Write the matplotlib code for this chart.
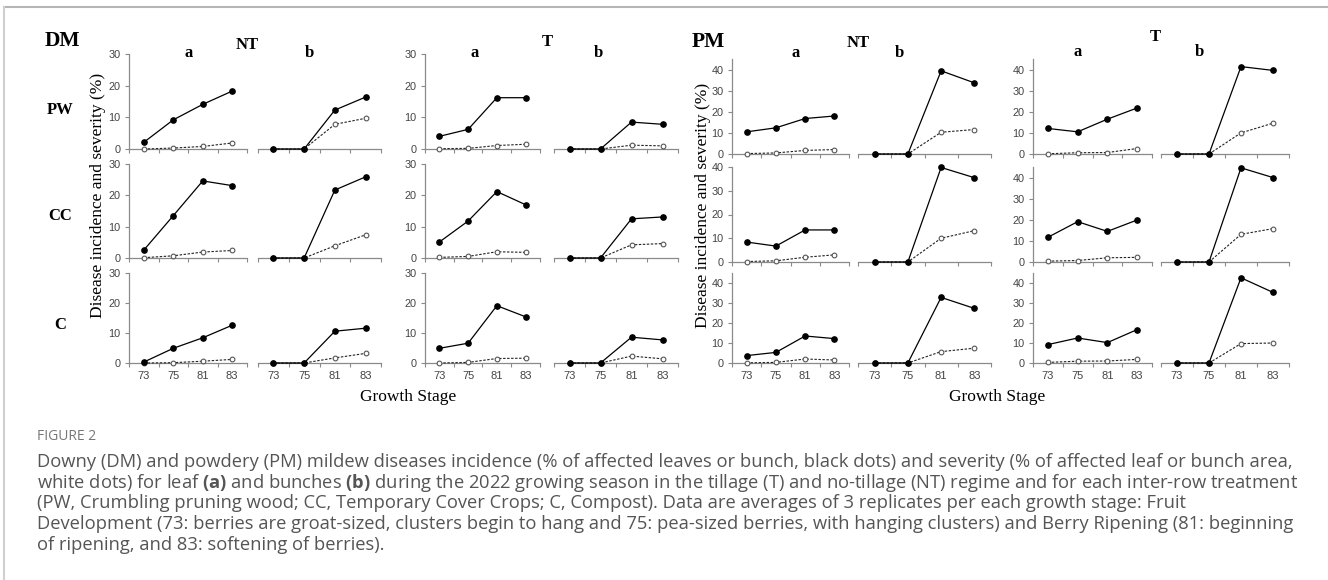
import numpy as np
import matplotlib
matplotlib.use('Agg')
import matplotlib.pyplot as plt
from matplotlib.lines import Line2D

# growth stages and inter-row treatments
stages = ['73', '75', '81', '83']
treatments = ['PW', 'CC', 'C']

# Downy mildew (rows: PW, CC, C)
dm_nt_leaf_inc = [[2.1, 9.2, 14.1, 18.3], [2.5, 13.5, 24.6, 23.1], [0.3, 4.9, 8.4, 12.6]]
dm_nt_leaf_sev = [[0.0, 0.3, 0.8, 1.9], [0.1, 0.7, 1.9, 2.4], [0.0, 0.1, 0.6, 1.2]]
dm_nt_bunch_inc = [[0, 0, 12.3, 16.4], [0, 0, 21.7, 25.9], [0, 0, 10.6, 11.6]]
dm_nt_bunch_sev = [[0, 0, 7.8, 9.7], [0, 0, 3.9, 7.4], [0, 0, 1.7, 3.2]]
dm_t_leaf_inc = [[4.0, 6.2, 16.2, 16.2], [5.1, 11.8, 21.2, 17.0], [4.9, 6.6, 19.1, 15.4]]
dm_t_leaf_sev = [[0.1, 0.2, 1.1, 1.5], [0.2, 0.5, 2.0, 1.8], [0.0, 0.2, 1.5, 1.6]]
dm_t_bunch_inc = [[0, 0, 8.5, 7.8], [0, 0, 12.5, 13.1], [0, 0, 8.6, 7.7]]
dm_t_bunch_sev = [[0, 0, 1.2, 1.0], [0, 0, 4.2, 4.6], [0, 0, 2.3, 1.4]]

# Powdery mildew (rows: PW, CC, C)
pm_nt_leaf_inc = [[10.5, 12.4, 16.8, 18.0], [8.4, 6.7, 13.5, 13.5], [3.7, 5.3, 13.5, 12.2]]
pm_nt_leaf_sev = [[0.2, 0.5, 1.7, 2.1], [0.2, 0.5, 2.0, 3.0], [0.1, 0.3, 2.0, 1.5]]
pm_nt_bunch_inc = [[0, 0, 39.4, 33.7], [0, 0, 39.8, 35.5], [0, 0, 32.8, 27.3]]
pm_nt_bunch_sev = [[0, 0, 10.3, 11.6], [0, 0, 10.0, 13.2], [0, 0, 5.7, 7.4]]
pm_t_leaf_inc = [[12.1, 10.5, 16.5, 21.8], [11.7, 19.1, 14.5, 19.9], [9.2, 12.5, 10.2, 16.7]]
pm_t_leaf_sev = [[0.1, 0.6, 0.7, 2.6], [0.4, 0.7, 2.0, 2.2], [0.3, 0.9, 1.0, 1.8]]
pm_t_bunch_inc = [[0, 0, 41.4, 39.6], [0, 0, 44.6, 40.0], [0, 0, 42.6, 35.3]]
pm_t_bunch_sev = [[0, 0, 10.0, 14.6], [0, 0, 13.1, 15.8], [0, 0, 9.7, 10.0]]

W, H = 1328, 580
SERIF = 'Liberation Serif'
SANS = 'Liberation Sans'
AXC = '#8a8a8a'

plt.rcParams['mathtext.fontset'] = 'custom'
plt.rcParams['mathtext.rm'] = 'Open Sans'
plt.rcParams['mathtext.bf'] = 'Open Sans:bold'

fig = plt.figure(figsize=(W / 100, H / 100), dpi=100)


def box(x0, x1, ytop, ybot):
    return [x0 / W, 1 - ybot / H, (x1 - x0) / W, (ybot - ytop) / H]


def ftext(x, y, s, **kw):
    fig.text(x / W, 1 - y / H, s, ha='center', va='center', **kw)


def panel(rect, inc, sev, ymax, yticks, show_y, show_x):
    ax = fig.add_axes(rect)
    ax.patch.set_alpha(0)
    x = np.arange(len(stages))
    ax.plot(x, sev, ls=(0, (2.2, 1.4)), color='#222222', lw=0.8, marker='o', ms=3.4,
            mfc='white', mec='#555555', mew=0.8, clip_on=False, zorder=3)
    ax.plot(x, inc, color='black', lw=0.9, marker='o', ms=3.8,
            mfc='black', mec='black', clip_on=False, zorder=4)
    ax.set_xlim(-0.5, 3.5)
    ax.set_ylim(0, ymax)
    for s in ['top', 'right']:
        ax.spines[s].set_visible(False)
    ax.spines['bottom'].set_color(AXC)
    ax.spines['bottom'].set_linewidth(0.9)
    ax.set_xticks(np.arange(-0.5, 4, 1))
    ax.set_xticklabels([])
    ax.set_xticks(x, minor=True)
    ax.set_xticklabels(stages, minor=True, fontfamily=SANS, fontsize=8, color='#444444')
    ax.tick_params(axis='x', which='major', length=3, color=AXC, width=0.8)
    ax.tick_params(axis='x', which='minor', length=0, pad=6, labelbottom=show_x)
    if show_y:
        ax.spines['left'].set_color(AXC)
        ax.spines['left'].set_linewidth(0.9)
        ax.set_yticks(yticks)
        ax.set_yticklabels([str(v) for v in yticks], fontfamily=SANS, fontsize=7.8, color='#444444')
        ax.tick_params(axis='y', length=3, color=AXC, width=0.8, pad=3)
    else:
        ax.spines['left'].set_visible(False)
        ax.set_yticks([])
    return ax


# Downy mildew block
dm_cols = [(129, 247), (258, 381), (425, 540), (554, 678)]
dm_rows = [(54, 149), (164, 258), (273, 363)]
dm_sets = [(dm_nt_leaf_inc, dm_nt_leaf_sev, True), (dm_nt_bunch_inc, dm_nt_bunch_sev, False),
           (dm_t_leaf_inc, dm_t_leaf_sev, True), (dm_t_bunch_inc, dm_t_bunch_sev, False)]
for (x0, x1), (inc, sev, leaf) in zip(dm_cols, dm_sets):
    for r, (yt, yb) in enumerate(dm_rows):
        panel(box(x0, x1, yt, yb), inc[r], sev[r], 30, [0, 10, 20, 30], leaf, r == 2)

# Powdery mildew block
pm_cols = [(732, 849), (858, 991), (1033, 1152), (1161, 1289)]
pm_rows = [(59, 154), (167, 262), (273, 363)]
pm_ymax = [[45, 40, 45], [45, 40, 45], [45, 45, 45], [45, 45, 45]]
pm_sets = [(pm_nt_leaf_inc, pm_nt_leaf_sev, True), (pm_nt_bunch_inc, pm_nt_bunch_sev, False),
           (pm_t_leaf_inc, pm_t_leaf_sev, True), (pm_t_bunch_inc, pm_t_bunch_sev, False)]
for c, ((x0, x1), (inc, sev, leaf)) in enumerate(zip(pm_cols, pm_sets)):
    for r, (yt, yb) in enumerate(pm_rows):
        panel(box(x0, x1, yt, yb), inc[r], sev[r], pm_ymax[c][r], [0, 10, 20, 30, 40], leaf, r == 2)

# block labels
bold = dict(fontfamily=SERIF, fontweight='bold')
ftext(62, 41, 'DM', fontsize=15.5, **bold)
ftext(247, 45, 'NT', fontsize=12, **bold)
ftext(189, 53, 'a', fontsize=12, **bold)
ftext(309, 53, 'b', fontsize=12, **bold)
ftext(547, 42, 'T', fontsize=12, **bold)
ftext(475, 53, 'a', fontsize=12, **bold)
ftext(598, 53, 'b', fontsize=12, **bold)
for name, y in zip(treatments, [110, 216, 325]):
    ftext(60, y, name, fontsize=12, **bold)
ftext(98, 195, 'Disease incidence and severity (%)', fontsize=12.5, fontfamily=SERIF, rotation=90)
ftext(408, 397, 'Growth Stage', fontsize=12.5, fontfamily=SERIF)

ftext(708, 42, 'PM', fontsize=15.5, **bold)
ftext(858, 43, 'NT', fontsize=12, **bold)
ftext(796, 53, 'a', fontsize=12, **bold)
ftext(899, 53, 'b', fontsize=12, **bold)
ftext(1155, 37, 'T', fontsize=12, **bold)
ftext(1078, 52, 'a', fontsize=12, **bold)
ftext(1199, 52, 'b', fontsize=12, **bold)
ftext(703, 205, 'Disease incidence and severity (%)', fontsize=12.5, fontfamily=SERIF, rotation=90)
ftext(997, 397, 'Growth Stage', fontsize=12.5, fontfamily=SERIF)

# frame lines
fig.add_artist(Line2D([4 / W, 1], [1 - 7 / H, 1 - 7 / H], color='#b5b5b5', lw=1.5))
fig.add_artist(Line2D([4 / W, 4 / W], [0, 1 - 7 / H], color='#d0d0d0', lw=1.5))

# caption
fig.text(37 / W, 1 - 437 / H, 'FIGURE 2', fontfamily='Open Sans', fontsize=10, color='#777777',
         ha='left', va='center')
caption = [
    'Downy (DM) and powdery (PM) mildew diseases incidence (% of affected leaves or bunch, black dots) and severity (% of affected leaf or bunch area,',
    r'white dots) for leaf $\mathbf{(a)}$ and bunches $\mathbf{(b)}$ during the 2022 growing season in the tillage (T) and no-tillage (NT) regime and for each inter-row treatment',
    '(PW, Crumbling pruning wood; CC, Temporary Cover Crops; C, Compost). Data are averages of 3 replicates per each growth stage: Fruit',
    'Development (73: berries are groat-sized, clusters begin to hang and 75: pea-sized berries, with hanging clusters) and Berry Ripening (81: beginning',
    'of ripening, and 83: softening of berries).',
]
for line, y in zip(caption, [462, 483, 503, 524, 545]):
    fig.text(37 / W, 1 - y / H, line, fontfamily='Open Sans', fontsize=13.25, color='#555555',
             ha='left', va='center')

fig.savefig('out.png', dpi=100)
